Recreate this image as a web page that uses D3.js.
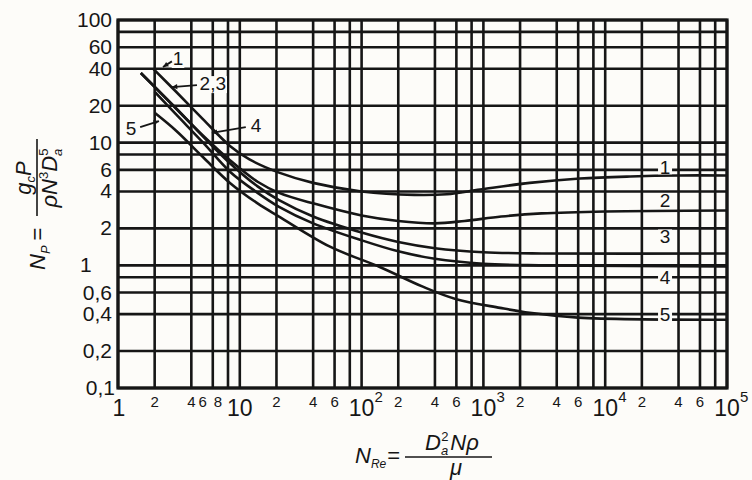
<!DOCTYPE html>
<html>
<head>
<meta charset="utf-8">
<script src="https://cdn.jsdelivr.net/npm/d3@7"></script>
<style>
  body { margin: 0; background: #fdfcf9; }
  text { font-family: "Liberation Sans", Arial, sans-serif; fill: #161616; }
</style>
</head>
<body>
<div id="chart"></div>
<script>
// grid + tick values (log-log paper)
const reGrid = [1, 2, 4, 6, 8, 10, 20, 40, 60, 80, 100, 200, 400, 600, 800,
  1e3, 2e3, 4e3, 6e3, 8e3, 1e4, 2e4, 4e4, 6e4, 8e4, 1e5];
const npGrid = [0.1, 0.2, 0.4, 0.6, 0.8, 1, 2, 4, 6, 8, 10, 20, 40, 60, 80, 100];
const npLabels = [100, 60, 40, 20, 10, 6, 4, 2, 1, 0.6, 0.4, 0.2, 0.1];
const reSmallLabels = [2, 4, 6, 8, 20, 40, 60, 200, 400, 600, 2e3, 4e3, 6e3, 2e4, 4e4, 6e4];
const reDecades = [1, 10, 1e2, 1e3, 1e4, 1e5];

// curves: [N_Re, N_P]
const curve1 = [[1.95, 40], [3, 26], [5, 15.5], [8.3, 9.4], [12, 7.3], [21, 5.7], [40, 4.7],
  [100, 4.0], [270, 3.75], [500, 3.8], [940, 4.15], [2400, 4.7], [6200, 5.1], [16000, 5.3],
  [40000, 5.4], [100000, 5.4]];
const curve2 = [[1.54, 37], [3, 19], [5, 11.4], [8.3, 7.2], [14, 4.8], [21, 3.9], [40, 3.2],
  [100, 2.55], [200, 2.3], [400, 2.2], [700, 2.3], [1400, 2.5], [3000, 2.65], [10000, 2.75],
  [100000, 2.8]];
const curve3 = [[1.54, 37], [3, 19], [5, 11.2], [8.3, 6.8], [14, 4.4], [21, 3.4], [40, 2.5],
  [100, 1.85], [200, 1.55], [400, 1.38], [1000, 1.28], [3000, 1.25], [100000, 1.25]];
const curve4 = [[2, 26], [3, 17], [5, 10], [8.3, 5.8], [14, 3.9], [21, 3.0], [40, 2.2],
  [100, 1.6], [200, 1.3], [400, 1.13], [1000, 1.03], [3000, 1.0], [100000, 0.98]];
const curve5 = [[2, 17.5], [3, 12.5], [5, 7.6], [8.3, 4.7], [14, 3.2], [21, 2.5], [55, 1.42],
  [141, 0.97], [318, 0.67], [600, 0.53], [1370, 0.45], [2400, 0.41], [6000, 0.375],
  [100000, 0.36]];
const curves = [curve1, curve2, curve3, curve4, curve5];

// curve labels on the right: [text, N_Re, N_P]
const rightLabels = [["1", 31000, 6.3], ["2", 31000, 3.4], ["3", 31000, 1.72],
  ["4", 31000, 0.8], ["5", 31000, 0.4]];
// pointer labels upper-left: [text, textRe, textNp, fromRe, fromNp, toRe, toNp]
const pointerLabels = [
  ["1", 3.11, 49, 2.77, 46, 2.34, 41.4],
  ["2,3", 6.0, 30.6, 4.45, 29.5, 2.77, 28.4],
  ["4", 13.6, 13.9, 11.2, 13.4, 5.9, 12],
  ["5", 1.28, 13.2, 1.52, 13.4, 2.17, 15.0]
];

const width = 752, height = 480;
const ink = "#161616", paper = "#fdfcf9";

const svg = d3.select("#chart")
  .append("svg")
    .attr("width", width)
    .attr("height", height);

const x = d3.scaleLog().domain([1, 1e5]).range([118, 727]);
const y = d3.scaleLog().domain([0.1, 100]).range([388, 20]);

// grid
svg.selectAll("line.vg")
  .data(reGrid)
  .enter()
  .append("line")
    .attr("x1", d => x(d)).attr("x2", d => x(d))
    .attr("y1", y(100)).attr("y2", y(0.1))
    .attr("stroke", ink).attr("stroke-width", 2.6);

svg.selectAll("line.hg")
  .data(npGrid)
  .enter()
  .append("line")
    .attr("x1", x(1)).attr("x2", x(1e5))
    .attr("y1", d => y(d)).attr("y2", d => y(d))
    .attr("stroke", ink).attr("stroke-width", 2.6);

svg.append("rect")
  .attr("x", x(1)).attr("y", y(100))
  .attr("width", x(1e5) - x(1)).attr("height", y(0.1) - y(100))
  .attr("fill", "none").attr("stroke", ink).attr("stroke-width", 3.2);

// curves
const line = d3.line()
  .x(d => x(d[0]))
  .y(d => y(d[1]))
  .curve(d3.curveCatmullRom.alpha(0.5));

svg.selectAll("path.curve")
  .data(curves)
  .enter()
  .append("path")
    .attr("d", line)
    .attr("fill", "none")
    .attr("stroke", ink)
    .attr("stroke-width", 2.6);

// y tick labels
svg.selectAll("text.ny")
  .data(npLabels)
  .enter()
  .append("text")
    .attr("x", d => d === 1 ? 80 : (d === 0.1 ? 115 : 112))
    .attr("y", d => y(d) + 7)
    .attr("text-anchor", d => d === 1 ? "start" : "end")
    .attr("font-size", 21)
    .text(d => String(d).replace(".", ","));

// x tick labels, small ones
svg.selectAll("text.nxs")
  .data(reSmallLabels)
  .enter()
  .append("text")
    .attr("x", d => x(d) + ((d === 6 || d === 8) ? -10 : 0))
    .attr("y", 407)
    .attr("text-anchor", "middle")
    .attr("font-size", 15)
    .text(d => String(d).charAt(0));

// decades
reDecades.forEach(d => {
  const e = Math.round(Math.log10(d));
  svg.append("text")
    .attr("x", x(d) + (e === 0 ? 1 : 0))
    .attr("y", 416)
    .attr("text-anchor", "middle")
    .attr("font-size", 23)
    .text(e === 0 ? "1" : "10");
  if (e > 1) {
    svg.append("text")
      .attr("x", x(d) + 13)
      .attr("y", 402)
      .attr("font-size", 15)
      .text(e);
  }
});

// right-hand curve labels
rightLabels.forEach(([t, re, np]) => {
  svg.append("rect")
    .attr("x", x(re) - 7).attr("y", y(np) - 7)
    .attr("width", 14).attr("height", 14)
    .attr("fill", paper);
  svg.append("text")
    .attr("x", x(re)).attr("y", y(np) + 7)
    .attr("text-anchor", "middle")
    .attr("font-size", 19)
    .text(t);
});

// pointer labels
pointerLabels.forEach(([t, tr, tn, fr, fn, er, en]) => {
  const bg = svg.append("rect").attr("fill", paper);
  const lbl = svg.append("text")
    .attr("x", x(tr)).attr("y", y(tn) + 7)
    .attr("text-anchor", "middle")
    .attr("font-size", 19)
    .text(t);
  const bb = lbl.node().getBBox();
  bg.attr("x", bb.x - 1).attr("y", bb.y + 3)
    .attr("width", bb.width + 2).attr("height", bb.height - 4);
  svg.append("line")
    .attr("x1", x(fr)).attr("y1", y(fn))
    .attr("x2", x(er)).attr("y2", y(en))
    .attr("stroke", ink).attr("stroke-width", 1.8);
  // little arrow head
  const ang = Math.atan2(y(en) - y(fn), x(er) - x(fr));
  const hx = x(er), hy = y(en), L = 6;
  svg.append("path")
    .attr("d", `M${hx},${hy}L${hx - L * Math.cos(ang - 0.45)},${hy - L * Math.sin(ang - 0.45)}` +
      `L${hx - L * Math.cos(ang + 0.45)},${hy - L * Math.sin(ang + 0.45)}Z`)
    .attr("fill", ink);
});

// y axis title  N_P = g_c P / (rho N^3 D_a^5)
const yt = svg.append("g").attr("transform", "translate(37,270) rotate(-90)");
const np1 = yt.append("text").attr("x", 0).attr("y", 8).attr("font-size", 22);
np1.append("tspan").attr("font-style", "italic").text("N");
np1.append("tspan").attr("font-style", "italic").attr("font-size", 13).attr("dy", 5).text("P");
np1.append("tspan").attr("dy", -5).attr("dx", 5).text("=");
yt.append("line")
  .attr("x1", 54).attr("x2", 131).attr("y1", 0).attr("y2", 0)
  .attr("stroke", ink).attr("stroke-width", 1.6);
const num = yt.append("text").attr("x", 92).attr("y", -6)
  .attr("text-anchor", "middle").attr("font-size", 22).attr("font-style", "italic");
num.append("tspan").text("g");
num.append("tspan").attr("font-size", 13).attr("dy", 4).text("c");
num.append("tspan").attr("dy", -4).text("P");
const den = yt.append("text").attr("x", 92).attr("y", 20)
  .attr("text-anchor", "middle").attr("font-size", 22).attr("font-style", "italic");
den.append("tspan").text("ρN");
den.append("tspan").attr("font-size", 13).attr("dy", -9).attr("font-style", "normal").text("3");
den.append("tspan").attr("dy", 9).text("D");
den.append("tspan").attr("font-size", 13).attr("dy", 5).text("a");
den.append("tspan").attr("font-size", 13).attr("dy", -14).attr("dx", -7).attr("font-style", "normal").text("5");

// x axis title  N_Re = D_a^2 N rho / mu
const xt = svg.append("text").attr("x", 355).attr("y", 463).attr("font-size", 22);
xt.append("tspan").attr("font-style", "italic").text("N");
xt.append("tspan").attr("font-style", "italic").attr("font-size", 12).attr("dy", 5).text("Re");
xt.append("tspan").attr("dy", -5).attr("dx", 1).text("=");
svg.append("line")
  .attr("x1", 405).attr("x2", 492).attr("y1", 457).attr("y2", 457)
  .attr("stroke", ink).attr("stroke-width", 1.6);
const xn = svg.append("text").attr("x", 425).attr("y", 450)
  .attr("font-size", 22).attr("font-style", "italic");
xn.append("tspan").text("D");
xn.append("tspan").attr("font-size", 13).attr("dy", 5).text("a");
xn.append("tspan").attr("font-size", 13).attr("dy", -14).attr("dx", -7).attr("font-style", "normal").text("2");
xn.append("tspan").attr("dy", 9).attr("dx", 2).text("Nρ");
svg.append("text").attr("x", 456).attr("y", 475)
  .attr("text-anchor", "middle").attr("font-size", 22).attr("font-style", "italic")
  .text("μ");
</script>
</body>
</html>
